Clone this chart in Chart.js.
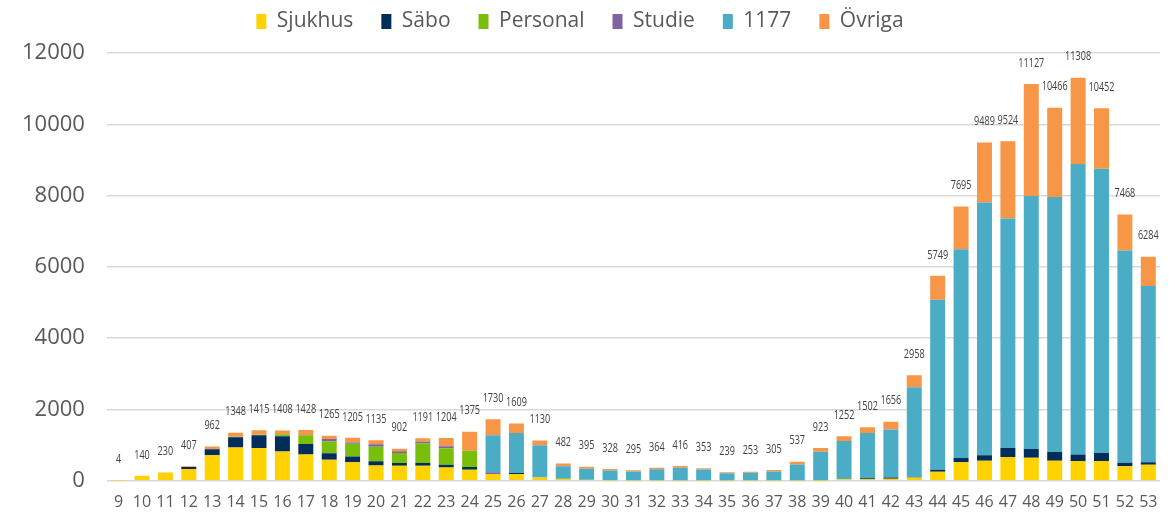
<!DOCTYPE html>
<html>
<head>
<meta charset="utf-8">
<script src="https://cdn.jsdelivr.net/npm/chart.js@4/dist/chart.umd.min.js"></script>
<style>
  html, body { margin: 0; padding: 0; background: #ffffff; overflow: hidden; }
  canvas { display: block; }
</style>
</head>
<body>
<canvas id="chart" width="1175" height="516"></canvas>
<script>
// weeks on the x axis
const weeks = ["9","10","11","12","13","14","15","16","17","18","19","20","21","22","23","24","25","26","27","28","29","30","31",
    "32","33","34","35","36","37","38","39","40","41","42","43","44","45","46","47","48","49","50","51","52","53"];

// series values
const sjukhus  = [4,140,225,330,720,935,920,820,735,590,520,430,425,425,376,313,190,190,94,50,25,15,10,
    10,10,8,5,5,5,5,10,40,45,60,90,255,520,560,670,650,560,555,557,410,448];
const sabo     = [0,0,0,55,165,290,360,430,295,185,165,120,75,75,75,76,0,28,0,0,0,0,0,
    0,0,0,0,0,0,0,0,5,25,35,15,55,120,160,250,240,250,185,223,93,75];
const personal = [0,0,0,0,0,8,10,55,250,325,355,405,280,555,461,455,0,0,0,10,5,5,0,
    0,0,0,0,0,0,0,5,0,0,0,0,0,0,0,0,0,0,0,0,0,0];
const studie   = [0,0,0,0,0,0,0,0,5,75,35,70,50,38,56,0,50,0,0,0,0,0,0,
    0,0,0,0,0,0,0,0,0,0,0,0,0,0,0,0,0,0,0,0,0,0];
const tel1177  = [0,0,0,0,0,0,0,0,0,0,0,0,0,0,0,0,1040,1126,904,350,310,268,250,
    314,356,310,204,218,255,455,803,1072,1270,1346,2520,4770,5855,7088,6439,7097,7148,8143,7972,5960,4943];
const ovriga   = [0,0,5,22,77,115,125,103,143,90,130,110,72,98,236,531,450,265,132,72,55,40,35,
    40,50,35,30,30,45,77,105,135,162,215,333,669,1200,1681,2165,3140,2508,2425,1700,1005,818];

// totals printed above each bar
const totals = [4,140,230,407,962,1348,1415,1408,1428,1265,1205,1135,902,1191,1204,1375,1730,1609,1130,482,395,328,295,
    364,416,353,239,253,305,537,923,1252,1502,1656,2958,5749,7695,9489,9524,11127,10466,11308,10452,7468,6284];

const yTicks = [0,2000,4000,6000,8000,10000,12000];

// numbers over the bars, squeezed a little to look like a narrow font
const totalLabels = {
    id: "totalLabels",
    afterDatasetsDraw(chart) {
        const ctx = chart.ctx;
        const xs = chart.scales.x;
        const ys = chart.scales.y;
        ctx.save();
        ctx.font = "13px 'Open Sans', sans-serif";
        ctx.fillStyle = "#404040";
        ctx.textAlign = "center";
        ctx.textBaseline = "middle";
        for (let i = 0; i < totals.length; i++) {
            const x = xs.getPixelForValue(i);
            const y = ys.getPixelForValue(totals[i]);
            ctx.save();
            ctx.translate(x, y - 21);
            ctx.scale(0.7, 1);
            ctx.fillText(String(totals[i]), 0, 0);
            ctx.restore();
        }
        ctx.restore();
    }
};

// extra room under the legend
const legendGap = {
    id: "legendGap",
    beforeInit(chart) {
        const fit = chart.legend.fit;
        chart.legend.fit = function () {
            fit.bind(chart.legend)();
            this.height += 11;
        };
    }
};

function ds(label, data, color) {
    return { label: label, data: data, backgroundColor: color, borderWidth: 0,
        barPercentage: 0.64, categoryPercentage: 1.0 };
}

const ctx = document.getElementById("chart").getContext("2d");
new Chart(ctx, {
    type: "bar",
    data: {
        labels: weeks,
        datasets: [
            ds("Sjukhus", sjukhus, "#FFD200"),
            ds("Säbo", sabo, "#002D5A"),
            ds("Personal", personal, "#78BE0A"),
            ds("Studie", studie, "#8064A2"),
            ds("1177", tel1177, "#4BACC6"),
            ds("Övriga", ovriga, "#F79646")
        ]
    },
    options: {
        responsive: false,
        animation: false,
        layout: { padding: { left: 0, right: 15, top: -17, bottom: 0 } },
        plugins: {
            legend: {
                position: "top",
                labels: {
                    font: { family: "'Open Sans', sans-serif", size: 21 },
                    color: "#595959",
                    boxWidth: 10,
                    boxHeight: 15,
                    padding: 28
                }
            },
            tooltip: { enabled: false }
        },
        scales: {
            x: {
                stacked: true,
                afterFit(scale) { scale.height = 32; },
                grid: { display: false, drawTicks: false },
                border: { display: false },
                ticks: {
                    font: { family: "'Open Sans', sans-serif", size: 16, lineHeight: 1 },
                    color: "#595959",
                    padding: 14,
                    maxRotation: 0,
                    autoSkip: false
                }
            },
            y: {
                stacked: true,
                min: 0,
                max: 12000,
                afterBuildTicks(axis) { axis.ticks = yTicks.map(v => ({ value: v })); },
                grid: { color: "#d9d9d9", lineWidth: 1.5, tickLength: 0 },
                border: { display: false },
                ticks: {
                    font: { family: "'Open Sans', sans-serif", size: 22 },
                    color: "#595959",
                    padding: 22,
                    callback: (v) => String(v)
                }
            }
        }
    },
    plugins: [totalLabels, legendGap]
});
</script>
</body>
</html>
